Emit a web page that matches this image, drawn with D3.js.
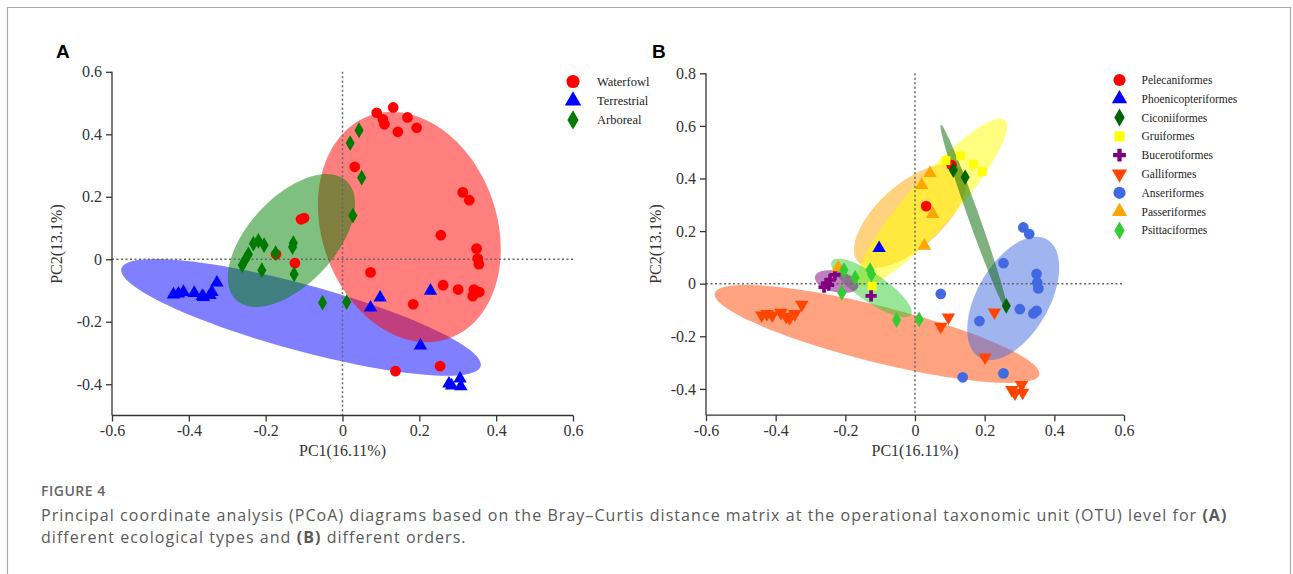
<!DOCTYPE html>
<html>
<head>
<meta charset="utf-8">
<script src="https://cdn.jsdelivr.net/npm/d3@7"></script>
<style>
  body { margin: 0; background: #fff; }
  svg { display: block; }
  .tick text { font-family: "Liberation Serif", "Times New Roman", serif; font-size: 16px; fill: #333; }
  .axis path, .axis line { stroke: #333; stroke-width: 1.3; }
  .axTitle { font-family: "Liberation Serif", serif; font-size: 16px; fill: #333; }
  .legText { font-family: "Liberation Serif", serif; fill: #222; }
  .panel { font-family: "Liberation Sans", Arial, sans-serif; font-weight: bold; font-size: 19px; }
  .cap { font-family: "Open Sans", sans-serif; fill: #595959; }
</style>
</head>
<body>
<div id="chart"></div>
<script>
//Panel A: ecological types (PC1, PC2)
var waterfowl = [[0.132,0.486],[0.089,0.469],[0.105,0.448],[0.109,0.432],[0.169,0.454],[0.144,0.408],
  [0.193,0.421],[0.032,0.296],[0.313,0.214],[0.330,0.189],[0.256,0.077],[0.349,0.034],[0.352,0.002],
  [0.355,-0.016],[0.073,-0.042],[0.262,-0.083],[0.301,-0.097],[0.342,-0.097],[0.356,-0.105],
  [0.339,-0.118],[0.184,-0.144],[0.138,-0.358],[0.254,-0.342],[-0.108,0.128],[-0.100,0.132],
  [-0.173,0.016],[-0.124,-0.012]];
var terrestrial = [[-0.440,-0.113],[-0.427,-0.110],[-0.414,-0.105],[-0.386,-0.108],[-0.362,-0.121],
  [-0.345,-0.115],[-0.340,-0.105],[-0.327,-0.075],[-0.365,-0.118],[0.098,-0.123],[0.073,-0.155],
  [0.229,-0.101],[0.203,-0.276],[0.277,-0.398],[0.306,-0.382],[0.308,-0.407],[0.284,-0.404]];
var arboreal = [[0.043,0.413],[0.020,0.372],[0.050,0.261],[0.027,0.140],[-0.128,0.052],[-0.130,0.039],
  [-0.174,0.020],[-0.204,0.045],[-0.219,0.059],[-0.232,0.050],[-0.245,0.016],[-0.254,-0.003],
  [-0.261,-0.019],[-0.210,-0.035],[-0.126,-0.048],[-0.052,-0.139],[0.011,-0.137]];

//Panel B: orders
var pelecaniformes = [[0.032,0.295],[0.105,0.451]];
var phoenicopteriformes = [[-0.103,0.135]];
var ciconiiformes = [[0.110,0.432],[0.144,0.405],[0.262,-0.084]];
var gruiformes = [[0.089,0.468],[0.131,0.486],[0.167,0.455],[0.193,0.426],[-0.123,-0.009]];
var bucerotiformes = [[-0.261,-0.013],[-0.254,0.001],[-0.244,0.015],[-0.230,0.034],[-0.248,-0.005],[-0.126,-0.046]];
var galliformes = [[-0.44,-0.12],[-0.425,-0.115],[-0.41,-0.12],[-0.385,-0.11],[-0.37,-0.125],[-0.36,-0.13],
  [-0.345,-0.115],[-0.325,-0.08],[0.096,-0.128],[0.074,-0.163],[0.228,-0.109],[0.201,-0.280],
  [0.278,-0.404],[0.306,-0.385],[0.309,-0.414],[0.287,-0.417]];
var anseriformes = [[0.311,0.214],[0.328,0.189],[0.254,0.078],[0.349,0.037],[0.351,0.004],[0.354,-0.018],
  [0.074,-0.039],[0.301,-0.097],[0.340,-0.113],[0.349,-0.103],[0.185,-0.142],[0.254,-0.341],[0.137,-0.356]];
var passeriformes = [[0.043,0.420],[0.019,0.375],[0.051,0.265],[0.027,0.144],[-0.220,0.062]];
var psittaciformes = [[-0.204,0.052],[-0.172,0.023],[-0.210,-0.034],[-0.129,0.052],[-0.125,0.036],
  [-0.053,-0.138],[0.012,-0.136]];

//confidence ellipses: centre, major semi-axis vector, minor semi-axis vector (data units)
var ellipsesA = [
  {name: 'Terrestrial', c: [-0.108,-0.186], u: [0.4676,-0.1564], v: [0.0225,0.102]},
  {name: 'Waterfowl', c: [0.174,0.103], u: [-0.104,0.356], v: [0.214,0.095]},
  {name: 'Arboreal', c: [-0.133,0.060], u: [0.1436,0.1904], v: [0.0825,-0.0945]}
];
var ellipsesB = [
  {name: 'Galliformes', c: [-0.109,-0.191], u: [0.4657,-0.1548], v: [0.0196,0.1034]},
  {name: 'Anseriformes', c: [0.282,-0.056], u: [0.0968,0.2243], v: [0.0898,-0.0679]},
  {name: 'Passeriformes', c: [-0.014,0.257], u: [0.1493,0.1749], v: [0.0608,-0.0912]},
  {name: 'Gruiformes', c: [0.049,0.309], u: [0.2093,0.3133], v: [0.0516,-0.0605]},
  {name: 'Psittaciformes', c: [-0.125,-0.016], u: [0.1134,-0.1023], v: [0.0227,0.0439]},
  {name: 'Bucerotiformes', c: [-0.225,0.008], u: [0.0622,-0.0190], v: [0.0068,0.0389]},
  {name: 'Ciconiiformes', c: [0.169,0.252], u: [0.0945,-0.3517], v: [0.0149,0.0070]}
];

var xTicks = [-0.6,-0.4,-0.2,0,0.2,0.4,0.6];
var yTicksA = [-0.4,-0.2,0,0.2,0.4,0.6];
var yTicksB = [-0.4,-0.2,0,0.2,0.4,0.6,0.8];

var groupsA = [
  {name: 'Waterfowl', data: waterfowl, color: '#ff0000', shape: 'circle'},
  {name: 'Terrestrial', data: terrestrial, color: '#0000ff', shape: 'triangle'},
  {name: 'Arboreal', data: arboreal, color: '#007a00', shape: 'diamond'}
];
var groupsB = [
  {name: 'Pelecaniformes', data: pelecaniformes, color: '#ff0000', shape: 'circle'},
  {name: 'Phoenicopteriformes', data: phoenicopteriformes, color: '#0000ff', shape: 'triangle'},
  {name: 'Ciconiiformes', data: ciconiiformes, color: '#006400', shape: 'diamond'},
  {name: 'Gruiformes', data: gruiformes, color: '#ffff00', shape: 'square'},
  {name: 'Bucerotiformes', data: bucerotiformes, color: '#800080', shape: 'cross'},
  {name: 'Galliformes', data: galliformes, color: '#ff4500', shape: 'triangleDown'},
  {name: 'Anseriformes', data: anseriformes, color: '#4169e1', shape: 'circle'},
  {name: 'Passeriformes', data: passeriformes, color: '#ffa500', shape: 'triangle'},
  {name: 'Psittaciformes', data: psittaciformes, color: '#32cd32', shape: 'diamond'}
];
var ellColor = {Waterfowl: '#ff0000', Terrestrial: '#0000ff', Arboreal: '#008000',
  Galliformes: '#ff4500', Anseriformes: '#4169e1', Passeriformes: '#ffa500', Gruiformes: '#ffff00',
  Psittaciformes: '#32cd32', Bucerotiformes: '#800080', Ciconiiformes: '#006400'};

var width = 1293, height = 574;
var svg = d3.select('#chart').append('svg').attr('width', width).attr('height', height);

//frame
svg.append('path')
  .attr('d', 'M7.5,' + (height + 5) + 'V7.5H1290.5V' + (height + 5))
  .attr('fill', 'none').attr('stroke', '#a9a9a9').attr('stroke-width', 1.2);

//symbol paths
var symSize = {circle: 90, triangle: 78, triangleDown: 78, diamond: 72, square: 78, cross: 70};
function symPath(shape, scale) {
  var k = scale || 1;
  var type = {circle: d3.symbolCircle, triangle: d3.symbolTriangle, triangleDown: d3.symbolTriangle,
    diamond: d3.symbolDiamond, square: d3.symbolSquare, cross: d3.symbolCross}[shape];
  return d3.symbol().type(type).size(symSize[shape] * k)();
}

function drawPanel(opt) {
  var x = d3.scaleLinear().domain([-0.6, 0.6]).range(opt.xRange);
  var y = d3.scaleLinear().domain(opt.yDomain).range(opt.yRange);
  var g = svg.append('g');

  //ellipses
  var line = d3.line().x(function(d) { return x(d[0]); }).y(function(d) { return y(d[1]); })
    .curve(d3.curveLinearClosed);
  g.selectAll('path.ell').data(opt.ellipses).enter().append('path')
    .attr('class', 'ell')
    .attr('d', function(e) {
      var pts = d3.range(120).map(function(i) {
        var t = i / 120 * 2 * Math.PI;
        return [e.c[0] + e.u[0] * Math.cos(t) + e.v[0] * Math.sin(t),
                e.c[1] + e.u[1] * Math.cos(t) + e.v[1] * Math.sin(t)];
      });
      return line(pts);
    })
    .attr('fill', function(e) { return ellColor[e.name]; })
    .attr('fill-opacity', 0.5);

  //zero reference lines
  g.append('line').attr('x1', x(0)).attr('x2', x(0)).attr('y1', y(opt.yDomain[1])).attr('y2', y(opt.yDomain[0]))
    .attr('stroke', '#666').attr('stroke-width', 1.5).attr('stroke-dasharray', '2,2.5');
  g.append('line').attr('x1', x(-0.6)).attr('x2', x(0.6)).attr('y1', y(0)).attr('y2', y(0))
    .attr('stroke', '#666').attr('stroke-width', 1.5).attr('stroke-dasharray', '2,2.5');

  //points
  opt.groups.forEach(function(grp) {
    g.selectAll(null).data(grp.data).enter().append('path')
      .attr('d', symPath(grp.shape))
      .attr('transform', function(d) {
        return 'translate(' + x(d[0]) + ',' + y(d[1]) + ')' + (grp.shape === 'triangleDown' ? ' rotate(180)' : '');
      })
      .attr('fill', grp.color);
  });

  //axes
  var xAxis = d3.axisBottom(x).tickValues(xTicks).tickSize(6).tickPadding(3)
    .tickFormat(function(d) { return d === 0 ? '0' : d3.format('.1f')(d); });
  var yAxis = d3.axisLeft(y).tickValues(opt.yTicks).tickSize(6).tickPadding(4)
    .tickFormat(function(d) { return d === 0 ? '0' : d3.format('.1f')(d); });
  g.append('g').attr('class', 'axis').attr('transform', 'translate(0,' + y(opt.yDomain[0]) + ')')
    .call(xAxis).call(function(s) { s.select('.domain').attr('d', 'M' + opt.xRange[0] + ',0H' + opt.xRange[1]); });
  g.append('g').attr('class', 'axis').attr('transform', 'translate(' + opt.xRange[0] + ',0)')
    .call(yAxis).call(function(s) { s.select('.domain').attr('d', 'M0,' + opt.yRange[0] + 'V' + y(opt.yTicks[opt.yTicks.length - 1])); });
  g.selectAll('.tick text').text(function() { return this.textContent.replace('−', '-'); });

  //axis titles
  g.append('text').attr('class', 'axTitle').attr('x', x(0)).attr('y', 456)
    .attr('text-anchor', 'middle').text('PC1(16.11%)');
  g.append('text').attr('class', 'axTitle')
    .attr('transform', 'translate(' + (opt.xRange[0] - opt.yTitleOff) + ',' + 244 + ') rotate(-90)')
    .attr('text-anchor', 'middle').text('PC2(13.1%)');

  //panel letter
  g.append('text').attr('class', 'panel').attr('x', opt.letterX).attr('y', 58).text(opt.letter);

  //legend
  var leg = g.append('g');
  opt.groups.forEach(function(grp, i) {
    var ly = opt.legY + i * opt.legStep;
    leg.append('path').attr('d', symPath(grp.shape, opt.legScale))
      .attr('transform', 'translate(' + opt.legX + ',' + ly + ')' + (grp.shape === 'triangleDown' ? ' rotate(180)' : ''))
      .attr('fill', grp.color);
    leg.append('text').attr('class', 'legText').attr('x', opt.legX + opt.legGap).attr('y', ly)
      .attr('dy', '0.35em').style('font-size', opt.legFont + 'px').text(grp.name);
  });
}

drawPanel({xRange: [112, 573], yDomain: [-0.5, 0.6], yRange: [415.5, 71.8], yTicks: yTicksA,
  ellipses: ellipsesA, groups: groupsA, letter: 'A', letterX: 56, yTitleOff: 50,
  legX: 573, legY: 81.5, legStep: 19.2, legGap: 24, legScale: 1.5, legFont: 12.5});
drawPanel({xRange: [706, 1124], yDomain: [-0.5, 0.8], yRange: [415.2, 73.3], yTicks: yTicksB,
  ellipses: ellipsesB, groups: groupsB, letter: 'B', letterX: 652, yTitleOff: 45,
  legX: 1119.5, legY: 80, legStep: 18.8, legGap: 22, legScale: 1.3, legFont: 11.5});

//caption
svg.append('text').attr('class', 'cap').attr('x', 41).attr('y', 496)
  .style('font-size', '14px').style('font-weight', 600).style('letter-spacing', '0.5px')
  .style('fill', '#666').text('FIGURE 4');
var cap1 = svg.append('text').attr('class', 'cap').attr('x', 41).attr('y', 521)
  .style('font-size', '16px').style('letter-spacing', '1.05px');
cap1.append('tspan').text('Principal coordinate analysis (PCoA) diagrams based on the Bray\u2013Curtis distance matrix at the operational taxonomic unit (OTU) level for ');
cap1.append('tspan').style('font-weight', 'bold').text('(A)');
var cap2 = svg.append('text').attr('class', 'cap').attr('x', 41).attr('y', 543)
  .style('font-size', '16px').style('letter-spacing', '1.05px');
cap2.append('tspan').text('different ecological types and ');
cap2.append('tspan').style('font-weight', 'bold').text('(B)');
cap2.append('tspan').text(' different orders.');
</script>
</body>
</html>
